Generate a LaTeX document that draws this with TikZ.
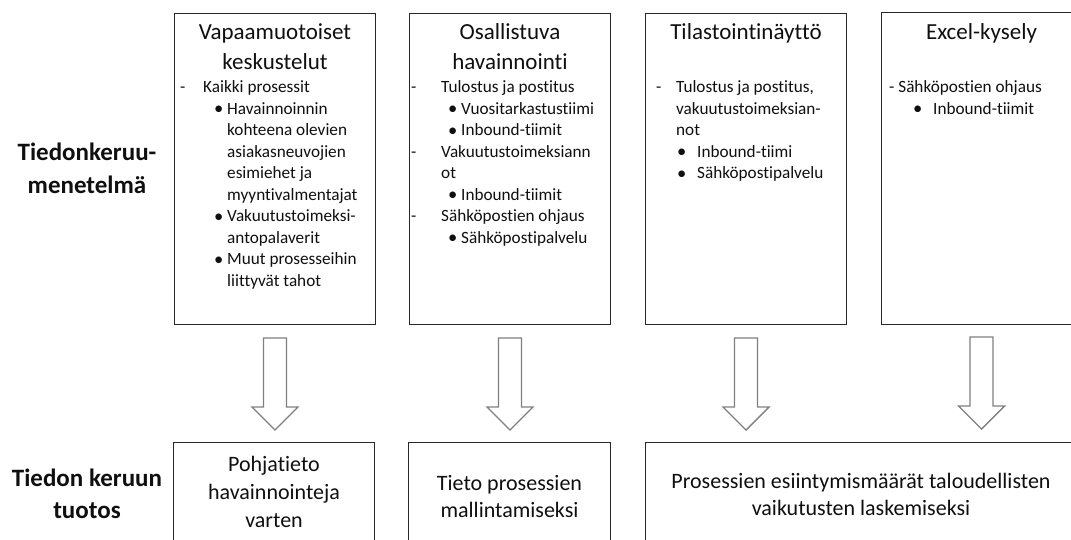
\documentclass[tikz,border=0pt]{standalone}
\usepackage{fontspec}
\setmainfont{Carlito}[Ligatures=NoCommon]
\usetikzlibrary{calc}

% centred stack of lines with a fixed baseline distance
\newcommand\cstack[2]{\vtop{\baselineskip=#1pt\lineskiplimit=-50pt\halign{\hfil##\hfil\cr#2\crcr}}}
% left-aligned list: rows built with \rw
\newcommand\lstack[1]{\vtop{\baselineskip=21.5pt\lineskiplimit=-50pt #1}}
% one list row: indent, marker box width, marker, text
\newcommand\rw[4]{\hbox{\hskip#1pt\hbox to #2pt{#3\hss}#4}}
\newcommand\bul{\raisebox{-0.2pt}{\scalebox{1.08}{•}}}

\definecolor{boxline}{RGB}{40,40,40}
\definecolor{arrowline}{RGB}{128,128,128}
\definecolor{ink}{RGB}{15,15,15}

\begin{document}
\begin{tikzpicture}[x=1pt,y=-1pt,
  box/.style={draw=boxline, line width=1pt, inner sep=0pt},
  edge/.style={draw=boxline, line width=1pt},
  topbox/.style={box, minimum width=201pt, minimum height=311pt, anchor=north west},
  lowbox/.style={box, anchor=north west, minimum height=130pt},
  heading/.style={inner sep=0pt, anchor=base, text=ink, font=\fontsize{23}{28}\selectfont},
  listtext/.style={inner sep=0pt, anchor=base west, text=ink, font=\fontsize{17.2}{21.5}\selectfont},
  result/.style={inner sep=0pt, anchor=base, text=ink, font=\fontsize{22}{27}\selectfont},
  rowlabel/.style={inner sep=0pt, anchor=base, text=ink, font=\fontsize{25}{32}\selectfont\bfseries},
  blockarrow/.style={draw=arrowline, line width=1.4pt, fill=white, line join=miter},
  downarrow/.pic={\path[blockarrow] (-11.5,0) -- (-11.5,69) -- (-23,69) -- (0,92) -- (23,69) -- (11.5,69) -- (11.5,0) -- cycle;}
]
\useasboundingbox (0,0) rectangle (1071,540);
\clip (0,0) rectangle (1071,540);

% row labels
\node[rowlabel] (lab1) at (87,161) {\cstack{33}{Tiedonkeruu-\cr menetelmä}};
\node[rowlabel] (lab2) at (87,486) {\cstack{32}{Tiedon keruun\cr tuotos}};

% method boxes; the last one runs past the right edge, so only three sides show
\node[topbox] (m1) at (174,13) {};
\node[topbox] (m2) at (409,13) {};
\node[topbox] (m3) at (645,13) {};
\coordinate (m4nw) at (881,13);
\coordinate (m4sw) at (881,324);
\coordinate (m4c) at (981.5,324);
\path[edge] (1080,13) -- (m4nw) -- (m4sw) -- (1080,324);

\node[heading] (m1h) at (m1.north |- 0,40) {\cstack{30}{Vapaamuotoiset\cr keskustelut}};
\node[heading] (m2h) at (m2.north |- 0,40) {\cstack{30}{Osallistuva\cr havainnointi}};
\node[heading] (m3h) at (m3.north |- 0,40) {Tilastointinäyttö};
\node[heading] (m4h) at (m4c |- 0,40) {Excel-kysely};

\node[listtext] (m1l) at (174,93) {\lstack{%
  \rw{6}{23}{-}{Kaikki prosessit}
  \rw{40}{13}{\bul}{Havainnoinnin}
  \rw{53}{0}{}{kohteena olevien}
  \rw{53}{0}{}{asiakasneuvojien}
  \rw{53}{0}{}{esimiehet ja}
  \rw{53}{0}{}{myyntivalmentajat}
  \rw{40}{13}{\bul}{Vakuutustoimeksi-}
  \rw{53}{0}{}{antopalaverit}
  \rw{40}{13}{\bul}{Muut prosesseihin}
  \rw{53}{0}{}{liittyvät tahot}}};

\node[listtext] (m2l) at (409,93) {\lstack{%
  \rw{2}{30}{-}{Tulostus ja postitus}
  \rw{39}{13}{\bul}{Vuositarkastustiimi}
  \rw{39}{13}{\bul}{Inbound-tiimit}
  \rw{2}{30}{-}{Vakuutustoimeksiann}
  \rw{32}{0}{}{ot}
  \rw{39}{13}{\bul}{Inbound-tiimit}
  \rw{2}{30}{-}{Sähköpostien ohjaus}
  \rw{39}{13}{\bul}{Sähköpostipalvelu}}};

\node[listtext] (m3l) at (645,93) {\lstack{%
  \rw{11}{20}{-}{Tulostus ja postitus,}
  \rw{31}{0}{}{vakuutustoimeksian-}
  \rw{31}{0}{}{not}
  \rw{32}{20}{\bul}{Inbound-tiimi}
  \rw{32}{20}{\bul}{Sähköpostipalvelu}}};

\node[listtext] (m4l) at (m4nw |- 0,93) {\lstack{%
  \rw{8}{0}{}{- Sähköpostien ohjaus}
  \rw{32}{20}{\bul}{Inbound-tiimit}}};

% result boxes; the last one runs past the right edge, so only two sides show
\node[lowbox, minimum width=201pt] (r1) at (173,442) {};
\node[lowbox, minimum width=202pt] (r2) at (408,442) {};
\coordinate (r3nw) at (645,442);
\coordinate (r3c) at (861,442);
\path[edge] (1080,442) -- (r3nw) -- (645,545);

\node[result] (r1t) at (r1.north |- 0,471) {\cstack{28}{Pohjatieto\cr havainnointeja\cr varten}};
\node[result] (r2t) at (r2.north |- 0,490) {\cstack{27}{Tieto prosessien\cr mallintamiseksi}};
\node[result] (r3t) at (r3c |- 0,488) {\cstack{27}{Prosessien esiintymismäärät taloudellisten\cr vaikutusten laskemiseksi}};

% block arrows from each method to its result
\foreach \i/\col in {1/m1.south,2/m2.south,3/m3.south,4/m4c} {
  \coordinate (a\i) at ($(\col)+(0,13)$);
  \pic at (a\i) {downarrow};
}
\end{tikzpicture}
\end{document}
